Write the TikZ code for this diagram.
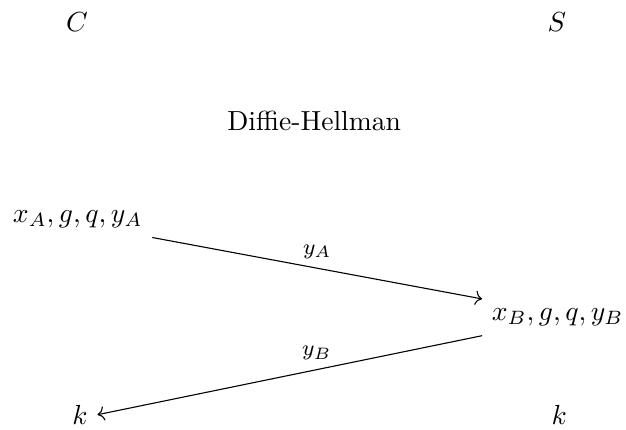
\documentclass[tikz,border=0pt]{standalone}
\usepackage{amsmath,amssymb}
\usetikzlibrary{positioning,arrows.meta}
\tikzset{
  party/.style={inner sep=3.33pt},
  msg/.style={->, line width=0.4pt},
  msglabel/.style={font=\footnotesize, above}
}
\begin{document}
\begin{tikzpicture}[x=1mm,y=1mm]
  \useasboundingbox (0,0) rectangle (79.7,54.7);
  % parties
  \node[party] (cl) at (9.8,51.9) {$C$};
  \node[party] (sv) at (70.9,51.9) {$S$};
  \node (dh) at (40.0,39.3) {Diffie-Hellman};
  % key material
  \node[party] (xa) at (9.9,26.8) {$x_A, g, q, y_A$};
  \node[party] (xb) at (71.0,14.3) {$x_B, g, q, y_B$};
  \node[party] (kc) at (10.2,1.9) {$k$};
  \node[party] (ks) at (71.2,1.9) {$k$};
  % messages
  \draw[msg] (xa.south east) -- node[msglabel] {$y_A$} (xb.north west);
  \draw[msg] (xb.south west) -- node[msglabel, pos=0.43] {$y_B$} (kc.east);
\end{tikzpicture}
\end{document}
